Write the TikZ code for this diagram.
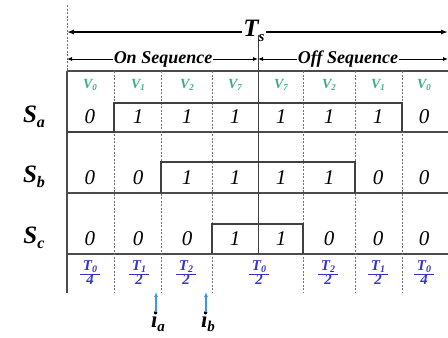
\documentclass[tikz,border=0pt]{standalone}
\usepackage{fontspec}
\setmainfont{Liberation Serif}
\usetikzlibrary{arrows.meta}
\usepackage{xcolor}
\definecolor{vgreen}{RGB}{62,172,140}
\definecolor{tblue}{RGB}{52,52,205}
\definecolor{iblue}{RGB}{60,150,230}
\newcommand{\dwell}[2]{{\renewcommand{\arraystretch}{0.8}\begin{tabular}{@{\hspace{3pt}}c@{\hspace{3pt}}}T\raisebox{-2pt}{\fontsize{10}{10}\selectfont #1}\\\hline #2\end{tabular}}}
\tikzset{
  boxline/.style={line width=1.1pt, black!70},
  waveline/.style={line width=1.2pt, black!75},
  colline/.style={line width=0.5pt, black!55, dash pattern=on 2pt off 1.5pt},
  midline/.style={line width=0.6pt, black!75},
  spanarrow/.style={line width=1.3pt, -{Latex[length=7pt,width=5pt]}},
  seqarrow/.style={line width=0.8pt, -{Latex[length=5pt,width=4pt]}},
  iarrow/.style={line width=1.1pt, iblue, -{Latex[length=5pt,width=4pt]}},
  vlabel/.style={font=\fontsize{14}{14}\selectfont\bfseries\itshape, text=vgreen},
  bitlabel/.style={font=\fontsize{21}{21}\selectfont\itshape},
  fraclabel/.style={font=\fontsize{15}{15}\selectfont\bfseries\itshape, text=tblue, inner sep=0pt},
  rowlabel/.style={font=\fontsize{25}{25}\selectfont\bfseries\itshape},
  seqlabel/.style={font=\fontsize{18}{18}\selectfont\bfseries\itshape, inner sep=1pt},
  instlabel/.style={font=\fontsize{23}{23}\selectfont\bfseries\itshape, inner sep=0pt},
}

\begin{document}
\begin{tikzpicture}[x=1pt,y=1pt]
\useasboundingbox (0,0) rectangle (448,-338);
% grid of the switching table
\draw[colline] (67,-5) -- (67,-71);
\draw[boxline] (67,-71) -- (448,-71);
\draw[boxline] (67,-132) -- (448,-132);
\draw[boxline] (67,-193) -- (448,-193);
\draw[boxline] (67,-254) -- (448,-254);
\draw[boxline] (67,-71) -- (67,-293);
\draw[midline] (258,-35) -- (258,-254);
\foreach \x in {114,161,212,303,355,402}
  \draw[colline] (\x,-71) -- (\x,-292);
% switching states
\draw[waveline] (67,-132) -- (114,-132) -- (114,-103) -- (402,-103) -- (402,-132);
\draw[waveline] (161,-193) -- (161,-162) -- (355,-162) -- (355,-193);
\draw[waveline] (212,-254) -- (212,-224) -- (303,-224) -- (303,-254);
% period and sequences
\node[rowlabel, inner sep=1pt] (ts) at (254,-31) {T\raisebox{-5pt}{\fontsize{15}{15}\selectfont s}};
\coordinate (tsL) at (67,-32);
\coordinate (tsR) at (448,-32);
\draw[spanarrow] (ts.west |- tsL) -- (tsL);
\draw[spanarrow] (ts.east |- tsR) -- (tsR);
\node[seqlabel] (onseq) at (163,-59) {On Sequence};
\node[seqlabel] (offseq) at (348,-59) {Off Sequence};
\coordinate (onL) at (67,-59);
\coordinate (mid) at (258,-59);
\coordinate (offR) at (448,-59);
\draw[seqarrow] (onseq.west) -- (onL);
\draw[seqarrow] (onseq.east) -- (mid);
\draw[seqarrow] (offseq.west) -- (mid);
\draw[seqarrow] (offseq.east) -- (offR);
% row names
\node[rowlabel] (sa) at (34,-117) {S\raisebox{-5pt}{\fontsize{16}{16}\selectfont a}};
\node[rowlabel] (sb) at (34,-177) {S\raisebox{-5pt}{\fontsize{16}{16}\selectfont b}};
\node[rowlabel] (sc) at (34,-238) {S\raisebox{-5pt}{\fontsize{16}{16}\selectfont c}};
% vectors
\foreach \x/\v [count=\k] in {90/0,138/1,187/2,235/7,281/7,329/2,378/1,424/0}
  \node[vlabel] (v\k) at (\x,-85) {V\raisebox{-2pt}{\fontsize{9}{9}\selectfont\v}};
% bits
\foreach \x/\a/\b/\c [count=\k] in {90/0/0/0,138/1/0/0,187/1/1/0,235/1/1/1,281/1/1/1,329/1/1/0,378/1/0/0,424/0/0/0}{
  \node[bitlabel] (a\k) at (\x,-117) {\a};
  \node[bitlabel] (b\k) at (\x,-178) {\b};
  \node[bitlabel] (c\k) at (\x,-239) {\c};
}
% dwell times
\node[fraclabel] (t1) at (90,-274) {\dwell{0}{4}};
\node[fraclabel] (t2) at (139,-274) {\dwell{1}{2}};
\node[fraclabel] (t3) at (186,-274) {\dwell{2}{2}};
\node[fraclabel] (t4) at (259,-274) {\dwell{0}{2}};
\node[fraclabel] (t5) at (328,-274) {\dwell{2}{2}};
\node[fraclabel] (t6) at (378,-274) {\dwell{1}{2}};
\node[fraclabel] (t7) at (424,-274) {\dwell{0}{4}};
% sampling instants
\node[instlabel] (ia) at (158,-322) {i\raisebox{-4pt}{\fontsize{15}{15}\selectfont a}};
\node[instlabel] (ib) at (208,-322) {i\raisebox{-4pt}{\fontsize{15}{15}\selectfont b}};
\coordinate (iatip) at (156,-292);
\coordinate (ibtip) at (206,-292);
\draw[iarrow] (iatip |- ia.north) -- (iatip);
\draw[iarrow] (ibtip |- ib.north) -- (ibtip);
\end{tikzpicture}
\end{document}
